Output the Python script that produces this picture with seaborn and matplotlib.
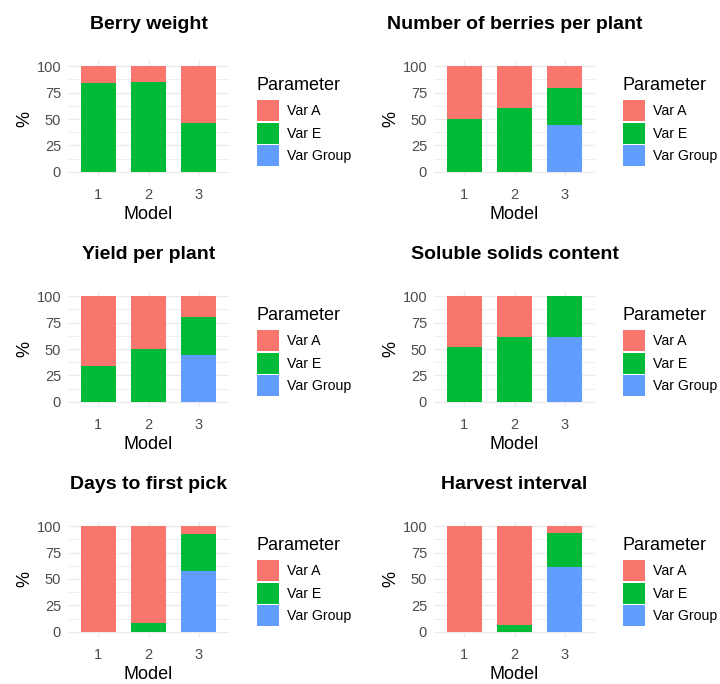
import matplotlib
matplotlib.use("Agg")
import matplotlib.pyplot as plt
import pandas as pd
import seaborn as sns
from matplotlib.patches import Patch
from matplotlib.ticker import MultipleLocator, FixedLocator

# Variance partition (%) for each trait, by model
traits = ["Berry weight", "Number of berries per plant", "Yield per plant",
          "Soluble solids content", "Days to first pick", "Harvest interval"]
models = [1, 2, 3]
parameters = ["Var A", "Var E", "Var Group"]
palette = ["#F8766D", "#00BA38", "#619CFF"]

var_a = [[16, 15, 54], [50, 39.5, 20.5], [66, 50, 20],
         [48, 39, 0], [100, 92, 7.5], [100, 94, 6.5]]
var_e = [[84, 85, 46], [50, 60.5, 35.5], [34, 50, 36],
         [52, 61, 39], [0, 8, 35], [0, 6, 32.5]]
var_group = [[0, 0, 0], [0, 0, 44], [0, 0, 44],
             [0, 0, 61], [0, 0, 57.5], [0, 0, 61]]

sns.set_theme(style="white")
plt.rcParams["font.family"] = ["Liberation Sans", "DejaVu Sans"]
plt.rcParams["text.color"] = "black"
plt.rcParams["axes.labelcolor"] = "black"

W, H = 720, 684
fig = plt.figure(figsize=(W / 100, H / 100), dpi=100)

col_left = [68, 434]
panel_w = 161
row_top = [61, 291, 521]
panel_h = 116

grid_col = "#EBEBEB"
tick_col = "#4D4D4D"

for i, trait in enumerate(traits):
    r, c = divmod(i, 2)
    x0, y0 = col_left[c], row_top[r]
    ax = fig.add_axes([x0 / W, 1 - (y0 + panel_h) / H, panel_w / W, panel_h / H])

    df = pd.DataFrame({
        "Model": models * 3,
        "Parameter": [p for p in parameters for _ in models],
        "Percent": var_a[i] + var_e[i] + var_group[i],
    })
    sns.histplot(data=df, x="Model", weights="Percent", hue="Parameter",
                 hue_order=parameters, palette=palette, multiple="stack",
                 discrete=True, shrink=0.7, alpha=1, linewidth=0,
                 edgecolor="none", legend=False, ax=ax, zorder=3)

    ax.set_xlim(0.4, 3.6)
    ax.set_ylim(-5, 105)
    ax.xaxis.set_major_locator(FixedLocator(models))
    ax.set_xticklabels([str(m) for m in models])
    ax.yaxis.set_major_locator(MultipleLocator(25))
    ax.yaxis.set_minor_locator(MultipleLocator(12.5))
    ax.grid(which="major", color=grid_col, linewidth=1.0, zorder=0)
    ax.grid(which="minor", axis="y", color=grid_col, linewidth=0.6, zorder=0)
    ax.set_axisbelow(True)
    for s in ax.spines.values():
        s.set_visible(False)
    ax.tick_params(axis="both", which="both", length=0, labelsize=10.5,
                   labelcolor=tick_col)
    ax.tick_params(axis="y", pad=5)
    ax.tick_params(axis="x", pad=8)
    ax.set_xlabel("Model", fontsize=13, color="black", labelpad=3)
    ax.set_ylabel("%", fontsize=13, color="black", labelpad=2)
    ax.set_title(trait, fontsize=14, fontweight="bold", color="black", pad=23)

    handles = [Patch(facecolor=col, edgecolor="none") for col in palette]
    leg = fig.legend(handles, parameters, title="Parameter",
                     loc="upper left",
                     bbox_to_anchor=((x0 + 189) / W, 1 - (y0 + 16) / H),
                     frameon=False, fontsize=10.2, title_fontsize=13,
                     handlelength=1.55, handleheight=1.9, labelspacing=0.1,
                     handletextpad=0.6, borderpad=0, borderaxespad=0)
    leg._legend_box.align = "left"
    leg._legend_box.sep = 4.5  # gap between title and keys, in points
    for t in leg.get_texts():
        t.set_color("black")

fig.savefig("out.png", dpi=100, facecolor="white")
